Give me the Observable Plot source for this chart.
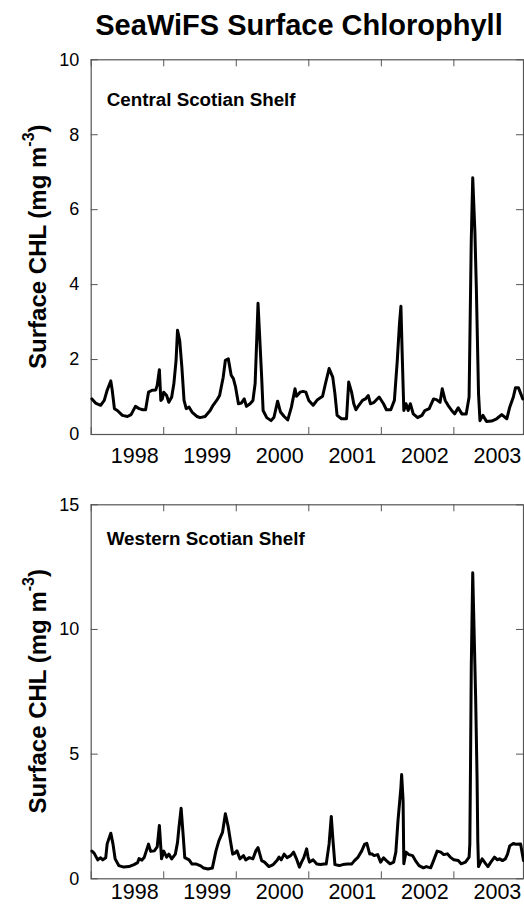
<!DOCTYPE html>
<html>
<head>
<meta charset="utf-8">
<script src="https://cdn.jsdelivr.net/npm/d3@7"></script>
<script src="https://cdn.jsdelivr.net/npm/@observablehq/plot@0.6"></script>
<style>
  body { margin: 0; background: #fff; }
  #wrap { position: relative; width: 524px; height: 909px; overflow: hidden; }
  #wrap svg { position: absolute; left: 0; display: block; }
</style>
</head>
<body>
<div id="wrap"></div>
<script>
// ---------- DATA (decimal years, mg m^-3) ----------
const title = "SeaWiFS Surface Chlorophyll";
const yLabelMain = "Surface CHL (mg m";
const yLabelSup = "-3";
const yLabelEnd = ")";

const centralName = "Central Scotian Shelf";
const centralT = [1998.01,1998.06,1998.13,1998.18,1998.22,1998.27,1998.29,1998.32,1998.36,1998.43,1998.50,1998.55,1998.61,1998.66,1998.71,1998.75,1998.79,1998.84,1998.89,1998.91,1998.94,1998.96,1998.98,
  1999.00,1999.04,1999.07,1999.11,1999.14,1999.17,1999.19,1999.22,1999.25,1999.28,1999.31,1999.35,1999.39,1999.46,1999.50,1999.57,1999.64,1999.68,1999.73,1999.77,1999.82,1999.85,1999.89,1999.93,1999.96,1999.99,
  2000.03,2000.07,2000.11,2000.14,2000.19,2000.23,2000.26,2000.28,2000.30,2000.35,2000.37,2000.42,2000.48,2000.52,2000.57,2000.61,2000.66,2000.71,2000.76,2000.81,2000.83,2000.88,2000.92,2000.96,
  2001.00,2001.06,2001.12,2001.19,2001.23,2001.28,2001.33,2001.36,2001.39,2001.45,2001.52,2001.55,2001.59,2001.62,2001.65,2001.69,2001.74,2001.78,2001.82,2001.85,2001.90,2001.97,
  2002.03,2002.07,2002.13,2002.18,2002.22,2002.25,2002.27,2002.29,2002.31,2002.34,2002.37,2002.40,2002.44,2002.50,2002.56,2002.60,2002.66,2002.72,2002.76,2002.81,2002.84,2002.88,2002.92,2002.97,
  2003.01,2003.06,2003.11,2003.17,2003.21,2003.24,2003.26,2003.29,2003.31,2003.34,2003.36,2003.40,2003.45,2003.52,2003.59,2003.66,2003.73,2003.77,2003.82,2003.85,2003.89,2003.95];
const centralV = [0.95,0.84,0.78,0.91,1.18,1.43,1.18,0.69,0.64,0.51,0.48,0.53,0.75,0.69,0.66,0.66,1.13,1.18,1.19,1.31,1.73,0.91,0.95,
  1.13,1.04,0.86,1.00,1.36,1.98,2.78,2.51,1.80,0.91,0.69,0.73,0.60,0.48,0.45,0.48,0.64,0.78,0.91,1.04,1.53,1.98,2.02,1.58,1.49,1.27,
  0.82,0.84,0.95,0.75,0.82,0.91,1.36,2.42,3.50,1.53,0.64,0.45,0.37,0.46,0.89,0.60,0.48,0.39,0.73,1.22,1.02,1.13,1.15,1.13,
  0.91,0.78,0.93,1.02,1.36,1.76,1.53,1.09,0.51,0.42,0.42,1.40,1.13,0.82,0.66,0.78,0.91,0.95,1.04,0.82,0.86,1.00,
  0.82,0.66,0.66,0.91,1.98,2.96,3.42,1.98,0.64,0.82,0.64,0.82,0.55,0.45,0.51,0.64,0.69,0.95,0.93,0.86,1.22,0.91,0.78,0.64,
  0.55,0.71,0.55,0.55,1.00,5.20,6.85,5.40,3.90,1.09,0.37,0.51,0.35,0.36,0.42,0.53,0.42,0.73,1.00,1.25,1.25,0.95];

const westernName = "Western Scotian Shelf";
const westernT = [1998.01,1998.04,1998.09,1998.13,1998.16,1998.20,1998.22,1998.27,1998.30,1998.33,1998.38,1998.45,1998.52,1998.59,1998.64,1998.66,1998.70,1998.73,1998.76,1998.79,1998.82,1998.87,1998.91,1998.94,1998.97,
  1999.00,1999.04,1999.07,1999.11,1999.16,1999.19,1999.21,1999.24,1999.27,1999.29,1999.35,1999.39,1999.45,1999.51,1999.55,1999.61,1999.67,1999.72,1999.76,1999.81,1999.85,1999.89,1999.92,1999.95,1999.98,
  2000.01,2000.05,2000.10,2000.13,2000.18,2000.23,2000.27,2000.30,2000.35,2000.39,2000.45,2000.51,2000.56,2000.59,2000.62,2000.66,2000.70,2000.75,2000.79,2000.83,2000.87,2000.90,2000.93,2000.97,2000.99,
  2001.01,2001.06,2001.11,2001.16,2001.21,2001.24,2001.28,2001.31,2001.33,2001.36,2001.42,2001.47,2001.53,2001.59,2001.63,2001.68,2001.73,2001.77,2001.80,2001.84,2001.87,2001.90,2001.95,2001.99,
  2002.03,2002.07,2002.12,2002.17,2002.20,2002.23,2002.27,2002.28,2002.30,2002.31,2002.34,2002.38,2002.43,2002.47,2002.52,2002.58,2002.62,2002.68,2002.72,2002.77,2002.82,2002.86,2002.91,2002.95,
  2003.00,2003.06,2003.10,2003.16,2003.21,2003.22,2003.23,2003.24,2003.26,2003.28,2003.30,2003.32,2003.33,2003.34,2003.39,2003.44,2003.47,2003.51,2003.56,2003.60,2003.63,2003.67,2003.71,2003.74,2003.77,2003.82,2003.85,2003.92,2003.96];
const westernV = [1.11,1.03,0.76,0.84,0.76,0.84,1.40,1.83,1.40,0.80,0.53,0.47,0.49,0.57,0.65,0.81,0.75,0.85,1.12,1.39,1.10,1.12,1.28,2.14,0.80,
  1.11,0.87,0.99,0.80,0.99,1.46,2.06,2.83,1.66,0.85,0.76,0.59,0.59,0.52,0.43,0.39,0.43,1.12,1.52,1.86,2.61,2.07,1.52,0.99,1.03,
  1.12,0.80,0.93,0.76,0.85,0.80,1.12,1.25,0.73,0.67,0.49,0.57,0.73,0.87,0.76,0.99,0.85,0.93,1.07,0.80,0.47,0.67,0.84,1.20,0.87,
  0.67,0.76,0.59,0.57,0.59,0.59,1.40,2.50,1.66,0.57,0.53,0.57,0.59,0.59,0.73,0.87,1.12,1.39,1.42,0.99,1.00,0.93,0.97,0.67,
  0.84,0.73,0.60,0.67,1.07,2.34,3.67,4.18,3.14,0.60,1.07,0.97,0.93,0.73,0.53,0.44,0.49,0.44,0.73,1.11,1.07,0.97,1.00,0.87,
  0.76,0.73,0.60,0.67,0.87,1.40,4.70,8.50,12.27,9.80,7.30,4.00,1.50,0.49,0.80,0.60,0.49,0.67,0.87,0.76,0.80,0.73,0.80,0.99,1.32,1.42,1.39,1.40,0.73];

const yearTicks = [1998, 1999, 2000, 2001, 2002, 2003];
const yearLabels = [1998, 1999, 2000, 2001, 2002, 2003];
const labelShift = 0.6;          // labels sit inside each year
const xDomain = [1998, 2003.96];
const centralYTicks = [0, 2, 4, 6, 8, 10];
const westernYTicks = [0, 5, 10, 15];

// ---------- DRAWING ----------
const W = 524;
const font = "'Liberation Sans', Arial, Helvetica, sans-serif";
const frameColor = "#555";

function panel({t, v, yMax, yTicks, name, height, mTop, mBottom, nameDy, xPad, top}) {
  const data = t.map((d, i) => ({t: d, v: v[i]}));
  const mLeft = 90.7, mRight = 1;
  const plotW = W - mLeft - mRight;
  const plotH = height - mTop - mBottom;
  const tick = 7;
  const svg = Plot.plot({
    width: W, height,
    marginLeft: mLeft, marginRight: mRight, marginTop: mTop, marginBottom: mBottom,
    style: {fontFamily: font, background: "transparent", color: "#000", overflow: "visible"},
    x: {domain: xDomain},
    y: {domain: [0, yMax]},
    marks: [
      Plot.frame({stroke: frameColor, strokeWidth: 1.2}),
      Plot.tickX(yearTicks, {x: d => d, stroke: frameColor, insetBottom: plotH - tick}),
      Plot.tickX(yearTicks, {x: d => d, stroke: frameColor, insetTop: plotH - tick}),
      Plot.tickY(yTicks, {y: d => d, stroke: frameColor, insetRight: plotW - tick}),
      Plot.tickY(yTicks, {y: d => d, stroke: frameColor, insetLeft: plotW - tick}),
      Plot.axisY({ticks: yTicks, tickSize: 0, tickPadding: 12, fontSize: 18, label: null, tickFormat: d => String(d)}),
      Plot.axisX({ticks: yearLabels.map(y => y + labelShift), tickSize: 0, tickPadding: xPad, fontSize: 21.5, label: null,
                  tickFormat: d => String(Math.round(d - labelShift))}),
      Plot.line(data, {x: "t", y: "v", stroke: "#000", strokeWidth: 3, strokeLinejoin: "round", strokeLinecap: "round"}),
      Plot.text([name], {frameAnchor: "top-left", dx: 15.5, dy: nameDy, lineAnchor: "middle", textAnchor: "start",
                         fontWeight: "bold", fontSize: 18.8, text: d => d, fill: "#000"})
    ]
  });
  svg.style.top = top + "px";
  // rotated y-axis title with superscript
  const cy = mTop + plotH / 2;
  const tx = d3.select(svg).append("text")
    .attr("transform", `translate(37,${cy}) rotate(-90)`)
    .attr("text-anchor", "middle")
    .attr("dominant-baseline", "central")
    .attr("font-family", font)
    .attr("font-weight", "bold")
    .attr("font-size", 24)
    .attr("fill", "#000");
  tx.append("tspan").text(yLabelMain);
  tx.append("tspan").attr("font-size", 16).attr("dy", -9).text(yLabelSup);
  tx.append("tspan").attr("dy", 9).text(yLabelEnd);
  return svg;
}

const wrap = document.getElementById("wrap");
const top1 = panel({t: centralT, v: centralV, yMax: 10, yTicks: centralYTicks, name: centralName,
                    height: 480, mTop: 59.3, mBottom: 46, nameDy: 39.7, xPad: 13, top: 0});
d3.select(top1).append("text")
  .attr("x", 299).attr("y", 34.5)
  .attr("text-anchor", "middle")
  .attr("font-family", font).attr("font-weight", "bold").attr("font-size", 29)
  .attr("fill", "#000")
  .text(title);
wrap.appendChild(top1);
const bot = panel({t: westernT, v: westernV, yMax: 15, yTicks: westernYTicks, name: westernName,
                   height: 429, mTop: 24.3, mBottom: 30.7, nameDy: 34, xPad: 5, top: 480});
wrap.appendChild(bot);
</script>
</body>
</html>
